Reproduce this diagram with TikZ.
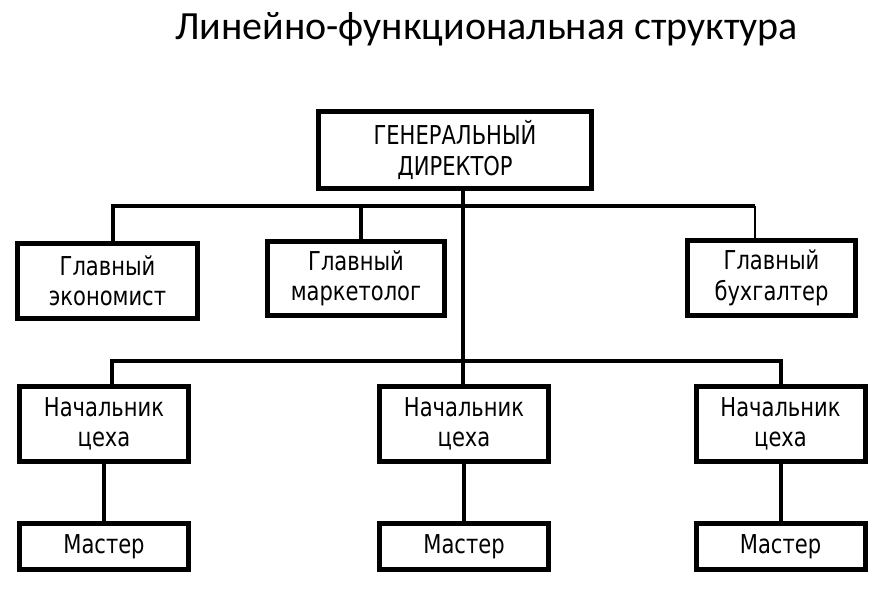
\documentclass[tikz,border=0pt]{standalone}
\usepackage{fontspec}
\setmainfont[FakeStretch=0.9]{DejaVu Sans Condensed}
\newfontfamily\titlefont{Carlito}
\tikzset{
  box/.style={draw, line width=5pt, inner sep=0pt, outer sep=0pt, align=center,
    font=\fontsize{26}{30.5}\selectfont},
  conn/.style={line width=4pt},
  thinconn/.style={line width=1.5pt},
}
\begin{document}
\begin{tikzpicture}[x=1pt,y=-1pt]
  \useasboundingbox (0,0) rectangle (887,608);
  \node[anchor=base, font=\titlefont\fontsize{40}{48}\selectfont] (title) at (486.5,39) {Линейно-функциональная структура};
  % top level
  \node[box, minimum width=273pt, minimum height=77pt] (dir) at (455,150) {ГЕНЕРАЛЬНЫЙ\\ДИРЕКТОР};
  \node[box, minimum width=180pt, minimum height=75pt] (econ) at (107.5,281) {Главный\\экономист};
  \node[box, minimum width=177pt, minimum height=74pt] (mark) at (356,278.5) {Главный\\маркетолог};
  \node[box, minimum width=168pt, minimum height=75pt] (buh) at (771.5,278) {Главный\\бухгалтер};
  \coordinate (trunkA) at (463,206);
  \coordinate (trunkB) at (463,361);
  \coordinate (buhTap) at (755,206);
  % workshops
  \foreach \n/\x in {L/104, M/464, R/780.5} {
    \node[box, minimum width=169pt, minimum height=75pt] (nach\n) at (\x,424) {Начальник\\цеха};
    \node[box, minimum width=169pt, minimum height=46pt] (mast\n) at (\x,546.5) {Мастер};
    \draw[conn] (nach\n) -- (mast\n);
  }
  % connectors
  \draw[conn] ([xshift=5.5pt]econ.north) |- (buhTap);
  \draw[thinconn] (buhTap) -- (buhTap |- buh.north);
  \draw[conn] ([xshift=5pt]mark.north) -- ([xshift=5pt]mark.north |- trunkA);
  \draw[conn] (dir.south -| trunkB) -- (trunkB);
  \draw[conn] ([xshift=8pt]nachL.north) |- (trunkB) -| (nachR.north);
  \draw[conn] (trunkB) -- (nachM.north -| trunkB);
\end{tikzpicture}
\end{document}
